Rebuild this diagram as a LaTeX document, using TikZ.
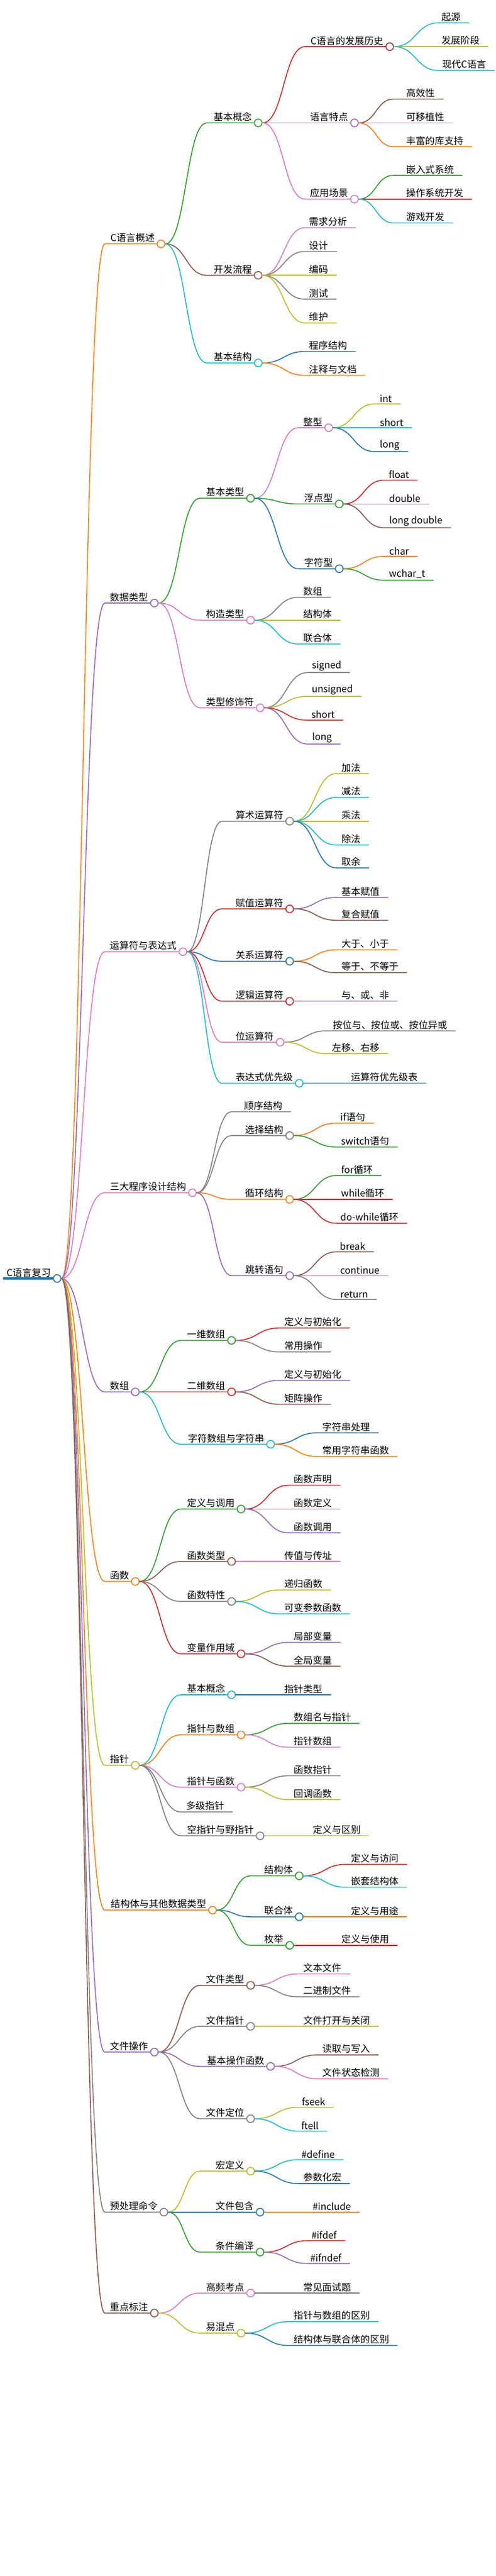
\documentclass[tikz,border=0pt]{standalone}
\usepackage{fontspec}
\setmainfont{Noto Sans CJK SC}
\usetikzlibrary{calc}

\definecolor{tOrange}{HTML}{FF7F0E}
\definecolor{tGreen}{HTML}{2CA02C}
\definecolor{tRed}{HTML}{D62728}
\definecolor{tPurple}{HTML}{9467BD}
\definecolor{tPink}{HTML}{E377C2}
\definecolor{tBrown}{HTML}{8C564B}
\definecolor{tGray}{HTML}{7F7F7F}
\definecolor{tOlive}{HTML}{BCBD22}
\definecolor{tCyan}{HTML}{17BECF}
\definecolor{tBlue}{HTML}{1F77B4}
\tikzstyle{branch} = [line width=1pt, line cap=round]
\tikzstyle{knot} = [circle, draw, fill=white, line width=1pt, minimum size=8pt, inner sep=0pt]
\tikzstyle{topic} = [anchor=south east, inner sep=1.5pt, font=\fontsize{10}{12}\selectfont]

% #1 parent, #2 name, #3 start x, #4 end x, #5 y, #6 colour, #7 text
\newcommand{\link}[4]{%
    \coordinate (#2-s) at (#3);
    \coordinate (#2-m) at ($(#1.east)!0.5!(#2-s)$);
    \draw [branch, #4] (#1.east) .. controls (#2-m |- #1.east) and (#2-m |- #2-s) .. (#2-s)}
\newcommand{\twig}[7]{%
    \link{#1}{#2}{#3,#5}{#6} -- (#4,#5);
    \node [topic] at (#4-5,#5) {#7};
    \node [knot, draw=#6] (#2) at (#4,#5) {};}
\newcommand{\leaf}[7]{%
    \link{#1}{#2}{#3,#5}{#6} -- (#4,#5);
    \coordinate (#2) at (#4,#5);
    \node [topic] at (#4-7,#5) {#7};}

\begin{document}
\begin{tikzpicture}[x=1pt, y=-1pt]
\useasboundingbox (0,0) rectangle (520,2704);

% Root
\draw [line width=3pt, tBlue] (3,1342) -- (60,1342);
\node [topic] at (55,1342) {C语言复习};
\node [knot, draw=tBlue] (root) at (60,1342) {};

% C语言概述
\twig{root}{a}{110}{169}{256}{tOrange}{C语言概述}
\twig{a}{a1}{217}{271}{129}{tGreen}{基本概念}
\twig{a1}{a11}{320}{409}{49}{tRed}{C语言的发展历史}
\leaf{a11}{a111}{460}{492}{24}{tCyan}{起源}
\leaf{a11}{a112}{460}{512}{49}{tOlive}{发展阶段}
\leaf{a11}{a113}{460}{519}{74}{tCyan}{现代C语言}
\twig{a1}{a12}{320}{372}{129}{tPurple}{语言特点}
\leaf{a12}{a121}{413}{465}{104}{tBrown}{高效性}
\leaf{a12}{a122}{413}{475}{129}{tPink}{可移植性}
\leaf{a12}{a123}{413}{495}{154}{tOrange}{丰富的库支持}
\twig{a1}{a13}{320}{372}{209}{tPink}{应用场景}
\leaf{a13}{a131}{413}{485}{184}{tGreen}{嵌入式系统}
\leaf{a13}{a132}{413}{495}{209}{tRed}{操作系统开发}
\leaf{a13}{a133}{413}{475}{234}{tCyan}{游戏开发}
\twig{a}{a2}{217}{271}{289}{tBrown}{开发流程}
\leaf{a2}{a21}{320}{373}{239}{tPink}{需求分析}
\leaf{a2}{a22}{320}{353}{264}{tGray}{设计}
\leaf{a2}{a23}{320}{353}{289}{tOlive}{编码}
\leaf{a2}{a24}{320}{353}{314}{tGray}{测试}
\leaf{a2}{a25}{320}{353}{339}{tOlive}{维护}
\twig{a}{a3}{217}{271}{381}{tCyan}{基本结构}
\leaf{a3}{a31}{320}{373}{369}{tBlue}{程序结构}
\leaf{a3}{a32}{320}{383}{394}{tOrange}{注释与文档}

% 数据类型
\twig{root}{b}{110}{162}{633}{tPurple}{数据类型}
\twig{b}{b1}{210}{263}{523}{tGreen}{基本类型}
\twig{b1}{b11}{313}{345}{449}{tPink}{整型}
\leaf{b11}{b111}{393}{420}{424}{tOlive}{int}
\leaf{b11}{b112}{393}{432}{449}{tCyan}{short}
\leaf{b11}{b113}{393}{428}{474}{tBlue}{long}
\twig{b1}{b12}{313}{356}{529}{tGreen}{浮点型}
\leaf{b12}{b121}{403}{438}{504}{tRed}{float}
\leaf{b12}{b122}{403}{450}{529}{tPurple}{double}
\leaf{b12}{b123}{403}{473}{554}{tBrown}{long double}
\twig{b1}{b13}{313}{356}{597}{tBlue}{字符型}
\leaf{b13}{b131}{403}{438}{584}{tOrange}{char}
\leaf{b13}{b132}{403}{455}{609}{tGreen}{wchar\_t}
\twig{b}{b2}{210}{263}{651}{tPink}{构造类型}
\leaf{b2}{b21}{313}{347}{627}{tGray}{数组}
\leaf{b2}{b22}{313}{357}{651}{tOlive}{结构体}
\leaf{b2}{b23}{313}{357}{676}{tCyan}{联合体}
\twig{b}{b3}{210}{273}{743}{tPink}{类型修饰符}
\leaf{b3}{b31}{323}{367}{706}{tGray}{signed}
\leaf{b3}{b32}{323}{379}{731}{tOlive}{unsigned}
\leaf{b3}{b33}{323}{360}{756}{tRed}{short}
\leaf{b3}{b34}{323}{357}{781}{tPurple}{long}

% 运算符与表达式
\twig{root}{c}{110}{192}{999}{tPink}{运算符与表达式}
\twig{c}{c1}{233}{304}{862}{tGray}{算术运算符}
\leaf{c1}{c11}{353}{387}{812}{tOlive}{加法}
\leaf{c1}{c12}{353}{387}{837}{tCyan}{减法}
\leaf{c1}{c13}{353}{387}{862}{tOlive}{乘法}
\leaf{c1}{c14}{353}{387}{887}{tCyan}{除法}
\leaf{c1}{c15}{353}{387}{911}{tBlue}{取余}
\twig{c}{c2}{233}{304}{954}{tRed}{赋值运算符}
\leaf{c2}{c21}{353}{407}{942}{tPurple}{基本赋值}
\leaf{c2}{c22}{353}{407}{966}{tBrown}{复合赋值}
\twig{c}{c3}{233}{304}{1009}{tBlue}{关系运算符}
\leaf{c3}{c31}{353}{417}{997}{tOrange}{大于、小于}
\leaf{c3}{c32}{353}{427}{1021}{tBrown}{等于、不等于}
\twig{c}{c4}{233}{304}{1051}{tRed}{逻辑运算符}
\leaf{c4}{c41}{353}{417}{1051}{tPurple}{与、或、非}
\twig{c}{c5}{233}{294}{1094}{tPink}{位运算符}
\leaf{c5}{c51}{343}{478}{1082}{tGray}{按位与、按位或、按位异或}
\leaf{c5}{c52}{343}{407}{1106}{tOlive}{左移、右移}
\twig{c}{c6}{233}{314}{1137}{tCyan}{表达式优先级}
\leaf{c6}{c61}{363}{447}{1137}{tBlue}{运算符优先级表}

% 三大程序设计结构
\twig{root}{d}{110}{202}{1252}{tPink}{三大程序设计结构}
\leaf{d}{d1}{243}{305}{1167}{tGray}{顺序结构}
\twig{d}{d2}{243}{304}{1192}{tGray}{选择结构}
\leaf{d2}{d21}{353}{392}{1179}{tOrange}{if语句}
\leaf{d2}{d22}{353}{417}{1204}{tGreen}{switch语句}
\twig{d}{d3}{243}{304}{1259}{tOrange}{循环结构}
\leaf{d3}{d31}{353}{400}{1234}{tGreen}{for循环}
\leaf{d3}{d32}{353}{412}{1259}{tRed}{while循环}
\leaf{d3}{d33}{353}{427}{1284}{tRed}{do-while循环}
\twig{d}{d4}{243}{304}{1339}{tPurple}{跳转语句}
\leaf{d4}{d41}{353}{392}{1314}{tBrown}{break}
\leaf{d4}{d42}{353}{407}{1339}{tPink}{continue}
\leaf{d4}{d43}{353}{395}{1364}{tGray}{return}

% 数组
\twig{root}{e}{110}{142}{1461}{tPurple}{数组}
\twig{e}{e1}{190}{243}{1407}{tGreen}{一维数组}
\leaf{e1}{e11}{293}{367}{1394}{tRed}{定义与初始化}
\leaf{e1}{e12}{293}{347}{1419}{tGray}{常用操作}
\twig{e}{e2}{190}{243}{1461}{tRed}{二维数组}
\leaf{e2}{e21}{293}{367}{1449}{tPurple}{定义与初始化}
\leaf{e2}{e22}{293}{347}{1474}{tBrown}{矩阵操作}
\twig{e}{e3}{190}{284}{1516}{tCyan}{字符数组与字符串}
\leaf{e3}{e31}{333}{397}{1504}{tBlue}{字符串处理}
\leaf{e3}{e32}{333}{417}{1529}{tOrange}{常用字符串函数}

% 函数
\twig{root}{f}{110}{142}{1660}{tOrange}{函数}
\twig{f}{f1}{190}{253}{1584}{tGreen}{定义与调用}
\leaf{f1}{f11}{303}{357}{1559}{tRed}{函数声明}
\leaf{f1}{f12}{303}{357}{1584}{tPurple}{函数定义}
\leaf{f1}{f13}{303}{357}{1609}{tPurple}{函数调用}
\twig{f}{f2}{190}{243}{1639}{tBrown}{函数类型}
\leaf{f2}{f21}{293}{357}{1639}{tPink}{传值与传址}
\twig{f}{f3}{190}{243}{1681}{tGray}{函数特性}
\leaf{f3}{f31}{293}{347}{1669}{tOlive}{递归函数}
\leaf{f3}{f32}{293}{367}{1694}{tCyan}{可变参数函数}
\twig{f}{f4}{190}{253}{1736}{tRed}{变量作用域}
\leaf{f4}{f41}{303}{357}{1724}{tPurple}{局部变量}
\leaf{f4}{f42}{303}{357}{1749}{tBrown}{全局变量}

% 指针
\twig{root}{g}{110}{142}{1853}{tOlive}{指针}
\twig{g}{g1}{190}{243}{1779}{tCyan}{基本概念}
\leaf{g1}{g11}{293}{347}{1779}{tBlue}{指针类型}
\twig{g}{g2}{190}{253}{1821}{tOrange}{指针与数组}
\leaf{g2}{g21}{303}{377}{1809}{tGreen}{数组名与指针}
\leaf{g2}{g22}{303}{357}{1834}{tPink}{指针数组}
\twig{g}{g3}{190}{253}{1876}{tPink}{指针与函数}
\leaf{g3}{g31}{303}{357}{1864}{tGray}{函数指针}
\leaf{g3}{g32}{303}{357}{1889}{tOlive}{回调函数}
\leaf{g}{g4}{190}{244}{1902}{tGray}{多级指针}
\twig{g}{g5}{190}{273}{1927}{tGray}{空指针与野指针}
\leaf{g5}{g51}{323}{387}{1927}{tOlive}{定义与区别}

% 结构体与其他数据类型
\twig{root}{h}{110}{223}{2005}{tOrange}{结构体与其他数据类型}
\twig{h}{h1}{263}{314}{1969}{tGreen}{结构体}
\leaf{h1}{h11}{363}{427}{1957}{tRed}{定义与访问}
\leaf{h1}{h12}{363}{427}{1981}{tCyan}{嵌套结构体}
\twig{h}{h2}{263}{314}{2012}{tBlue}{联合体}
\leaf{h2}{h21}{363}{427}{2012}{tOrange}{定义与用途}
\twig{h}{h3}{263}{304}{2042}{tGreen}{枚举}
\leaf{h3}{h31}{353}{417}{2042}{tRed}{定义与使用}

% 文件操作
\twig{root}{k}{110}{162}{2154}{tPurple}{文件操作}
\twig{k}{k1}{210}{263}{2084}{tBrown}{文件类型}
\leaf{k1}{k11}{313}{367}{2072}{tPink}{文本文件}
\leaf{k1}{k12}{313}{377}{2096}{tGray}{二进制文件}
\twig{k}{k2}{210}{263}{2127}{tGray}{文件指针}
\leaf{k2}{k21}{313}{397}{2127}{tOlive}{文件打开与关闭}
\twig{k}{k3}{210}{284}{2169}{tPurple}{基本操作函数}
\leaf{k3}{k31}{333}{397}{2157}{tBrown}{读取与写入}
\leaf{k3}{k32}{333}{407}{2182}{tPink}{文件状态检测}
\twig{k}{k4}{210}{263}{2224}{tGray}{文件定位}
\leaf{k4}{k41}{313}{350}{2212}{tOlive}{fseek}
\leaf{k4}{k42}{313}{343}{2237}{tCyan}{ftell}

% 预处理命令
\twig{root}{m}{110}{172}{2322}{tGray}{预处理命令}
\twig{m}{m1}{210}{263}{2279}{tOlive}{宏定义}
\leaf{m1}{m11}{313}{360}{2267}{tCyan}{\#define}
\leaf{m1}{m12}{313}{367}{2292}{tBlue}{参数化宏}
\twig{m}{m2}{210}{273}{2322}{tBlue}{文件包含}
\leaf{m2}{m21}{323}{377}{2322}{tOrange}{\#include}
\twig{m}{m3}{210}{273}{2364}{tGreen}{条件编译}
\leaf{m3}{m31}{323}{362}{2352}{tRed}{\#ifdef}
\leaf{m3}{m32}{323}{367}{2376}{tPurple}{\#ifndef}

% 重点标注
\twig{root}{n}{110}{162}{2428}{tBrown}{重点标注}
\twig{n}{n1}{210}{263}{2407}{tPink}{高频考点}
\leaf{n1}{n11}{313}{377}{2407}{tGray}{常见面试题}
\twig{n}{n2}{210}{253}{2449}{tOlive}{易混点}
\leaf{n2}{n21}{303}{397}{2437}{tCyan}{指针与数组的区别}
\leaf{n2}{n22}{303}{417}{2462}{tBlue}{结构体与联合体的区别}

\end{tikzpicture}
\end{document}
